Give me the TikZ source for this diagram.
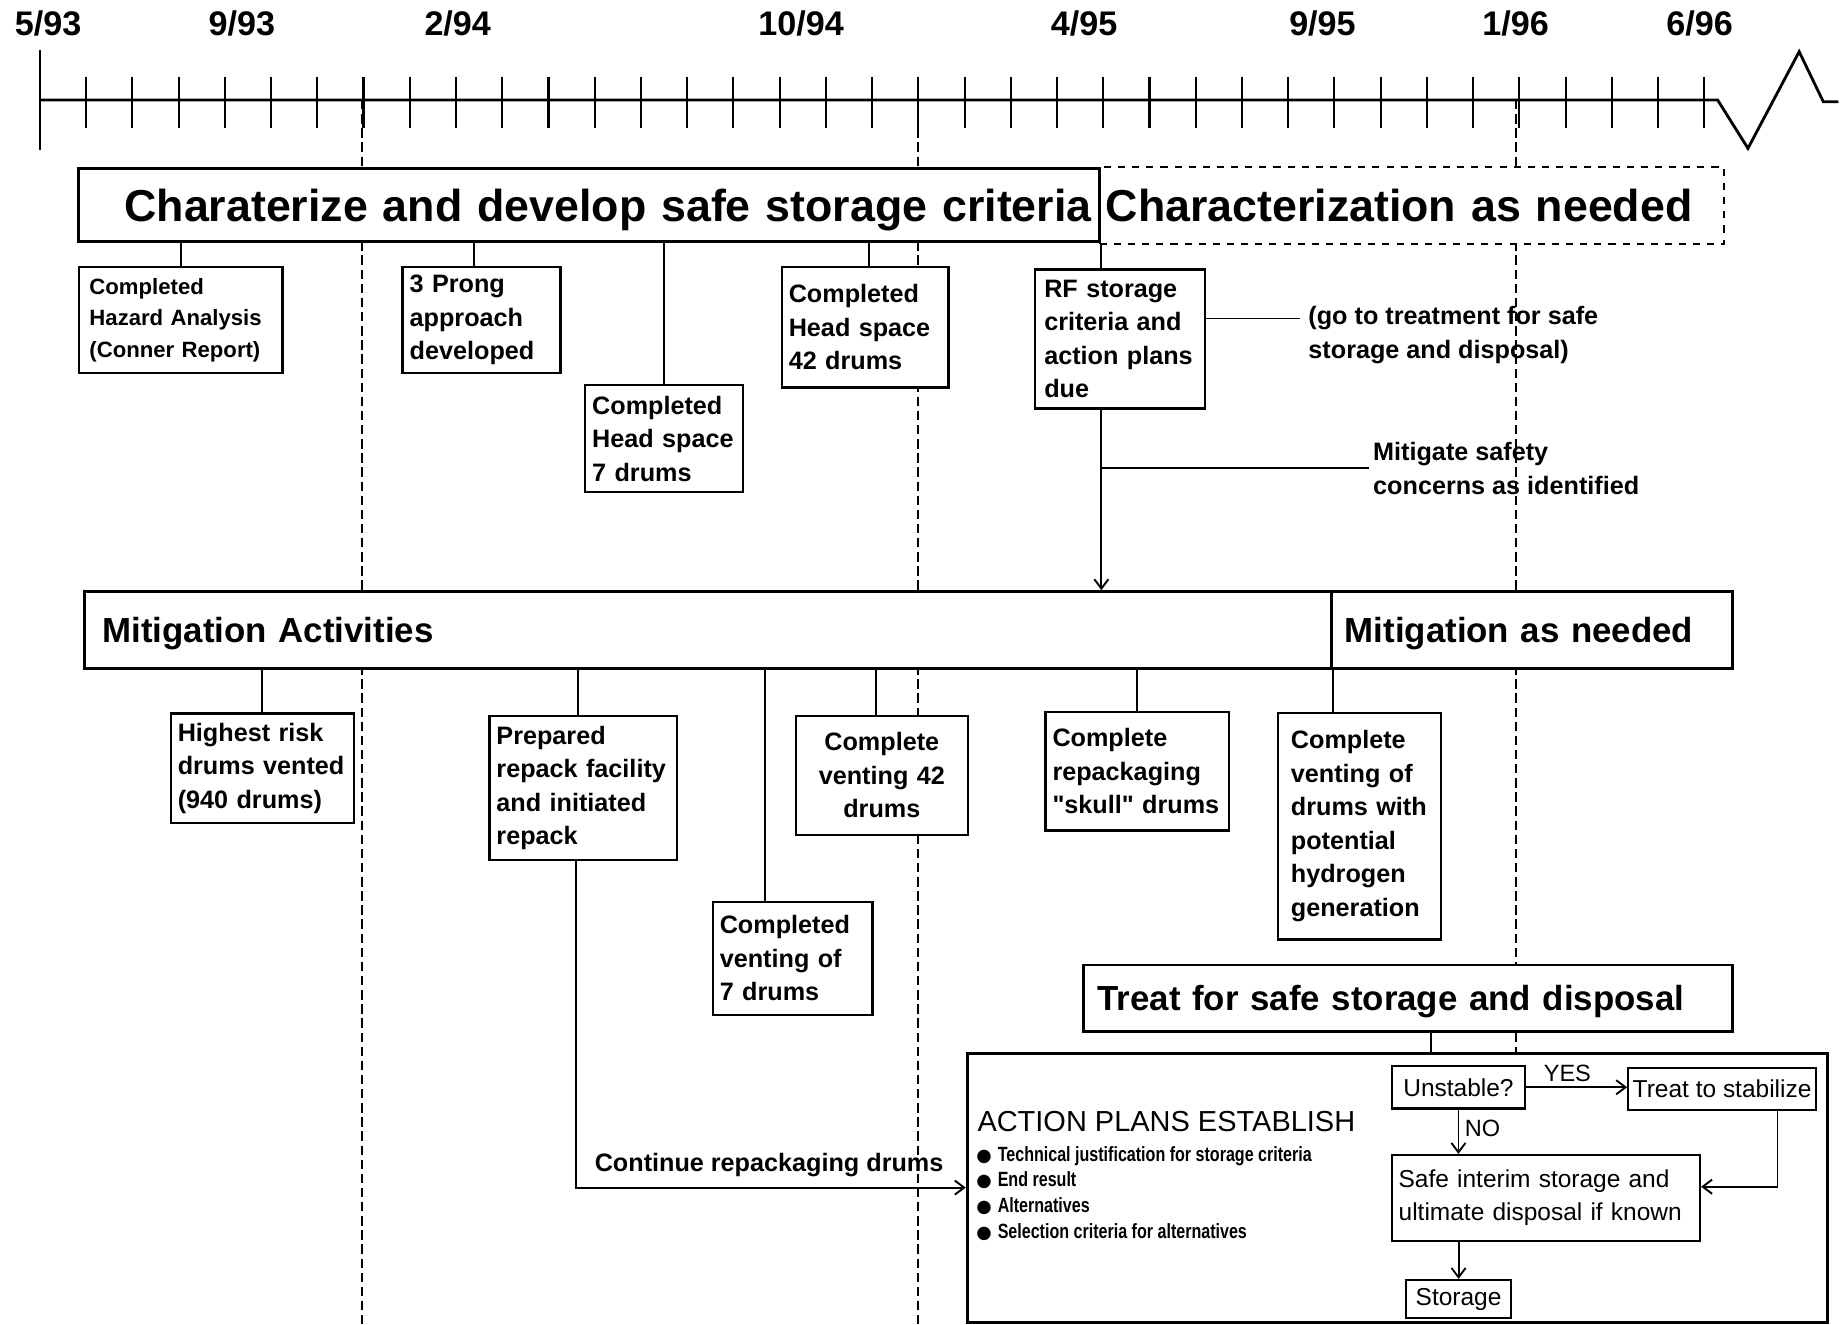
\documentclass[tikz,border=0pt]{standalone}
\usepackage{fontspec}
\setmainfont{Liberation Sans}
\newfontfamily\condfont[FakeStretch=0.78]{Liberation Sans}
\newfontfamily\symfont{DejaVu Sans}
\newfontfamily\quotefont[Ligatures=TeXOff]{Liberation Sans}
\usepackage{tikz}
\usetikzlibrary{arrows.meta}

\begin{document}
\begin{tikzpicture}[x=0.5pt, y=-0.5pt,
	bigbox/.style={draw=black, line width=1.3pt, fill=white, inner ysep=0pt, text depth=0pt},
	bigfont/.style={font=\fontsize{19pt}{23pt}\selectfont\bfseries},
	midfont/.style={font=\fontsize{14.8pt}{18pt}\selectfont\bfseries},
	evt/.style={draw=black, line width=1pt, fill=white, inner xsep=3pt, inner ysep=0pt,
		align=left, font=\fontsize{10.7pt}{14.25pt}\selectfont\bfseries},
	note/.style={inner ysep=0pt, align=left, font=\fontsize{10.7pt}{14.25pt}\selectfont\bfseries},
	flow/.style={draw=black, line width=0.9pt, fill=white, inner sep=0pt,
		font=\fontsize{10.4pt}{14pt}\selectfont},
	datelbl/.style={inner sep=0pt, font=\fontsize{14.5pt}{16pt}\selectfont\bfseries},
	guide/.style={dash pattern=on 4pt off 2pt, line width=0.7pt},
	conn/.style={line width=0.8pt},
	arr/.style={conn, -{Straight Barb[length=4pt,width=6pt]}}
	]
	\useasboundingbox (0,0) rectangle (1568,1125);
	
	% time axis, one tick a month
	\foreach \x in {307.5, 780, 1287.5}
		\draw[guide] (\x,85) -- (\x,1125);
	\draw[line width=1.2pt] (33.9,85) -- (1459,85) -- (1484.7,126) -- (1528.2,43.9) -- (1548.7,86.4) -- (1561.5,86.4);
	\draw[line width=1pt] (33.9,42.5) -- (33.9,127.4);
	\foreach \i in {1,...,36}
		\draw[line width=0.9pt] ({33.9+\i*39.27},65) -- ++(0,44);
	\foreach \x/\d [count=\k] in {40.9/{5/93}, 205.4/{9/93}, 388.8/{2/94}, 680.4/{10/94},
		920.8/{4/95}, 1123.3/{9/95}, 1287.4/{1/96}, 1443.7/{6/96}}
		\node[datelbl] (date\k) at (\x,19.8) {\d};
	
	% characterization row
	\node[bigbox, dashed, line width=1pt, minimum width=265pt, minimum height=32.75pt,
		inner xsep=2.5pt, text width=260pt, align=left, bigfont] (charneed) at (1199.2,174.75)
		{Characterization as needed};
	\node[bigbox, minimum width=433.6pt, minimum height=31.15pt, inner xsep=3.5pt,
		text width=426.6pt, align=right, bigfont] (charbox) at (500.6,174.15)
		{Charaterize and develop safe storage criteria};
	
	\node[evt, inner xsep=4.5pt, text width=77.5pt, minimum height=45pt,
		font=\fontsize{9.4pt}{13.5pt}\selectfont\bfseries] (hazard) at (153.5,272)
		{Completed\\Hazard Analysis\\(Conner Report)};
	\node[evt, text width=61pt, minimum height=45pt] (prong) at (409,272)
		{3 Prong\\approach\\developed};
	\node[evt, text width=61pt, minimum height=45.5pt] (head7) at (564,372.5)
		{Completed\\Head space\\7 drums};
	\node[evt, text width=64.75pt, minimum height=51pt] (head42) at (734.75,278)
		{Completed\\Head space\\42 drums};
	\node[evt, inner xsep=4pt, text width=64.25pt, minimum height=59pt] (rf) at (951.25,288)
		{RF storage\\criteria and\\action plans\\due};
	\node[note, anchor=west, inner xsep=3.5pt] (goto) at (1104,284.5)
		{(go to treatment for safe\\storage and disposal)};
	\node[note, anchor=west, inner xsep=1.5pt] (mitig) at (1163,397.8)
		{Mitigate safety\\concerns as identified};
	
	\draw[conn] (hazard.north |- charbox.south) -- (hazard.north);
	\draw[conn] ([xshift=-3.2pt]prong.north |- charbox.south) -- ([xshift=-3.2pt]prong.north);
	\draw[conn] (head7.north |- charbox.south) -- (head7.north);
	\draw[conn] ([xshift=1.6pt]head42.north |- charbox.south) -- ([xshift=1.6pt]head42.north);
	\draw[conn] (charbox.south east) -- (charbox.south east |- rf.north);
	\draw[conn] ([yshift=7pt]goto.west -| rf.east) -- ([yshift=7pt]goto.west);
	
	% mitigation row
	\node[bigbox, minimum width=170.25pt, minimum height=32.55pt, inner xsep=5.5pt,
		text width=159.25pt, align=left, midfont] (mitneed) at (1301.45,535.15)
		{Mitigation as needed};
	\node[bigbox, minimum width=529.9pt, minimum height=32.55pt, inner xsep=7.8pt,
		text width=514.3pt, align=left, midfont] (mitbox) at (601.3,535.15)
		{Mitigation Activities};
	
	\draw[arr] (charbox.south east |- rf.south) -- (charbox.south east |- mitbox.north);
	\draw[conn] (mitig.west -| charbox.south east) -- (mitig.west);
	
	\node[evt, text width=71.8pt, minimum height=46.5pt] (highest) at (222.8,652.5)
		{Highest risk\\drums vented\\(940 drums)};
	\node[evt, text width=73.7pt, minimum height=61.25pt] (prepared) at (495.4,669.25)
		{Prepared\\repack facility\\and initiated\\repack};
	\node[evt, text width=61.8pt, minimum height=48pt] (vent7) at (673.2,814)
		{Completed\\venting of\\7 drums};
	\node[evt, text width=67pt, minimum height=50.5pt, align=center] (vent42) at (749,658.5)
		{Complete\\venting 42\\drums};
	\node[evt, text width=71.9pt, minimum height=50.5pt] (skull) at (965.9,655)
		{Complete\\repackaging\\{\quotefont"skull"} drums};
	\node[evt, inner xsep=5.5pt, text width=58.25pt, minimum height=96.3pt] (hydro) at (1154.75,701.7)
		{Complete\\venting of\\drums with\\potential\\hydrogen\\generation};
	
	\draw[conn] (highest.north |- mitbox.south) -- (highest.north);
	\draw[conn] ([xshift=-2.3pt]prepared.north |- mitbox.south) -- ([xshift=-2.3pt]prepared.north);
	\draw[conn] ([xshift=-11.7pt]vent7.north |- mitbox.south) -- ([xshift=-11.7pt]vent7.north);
	\draw[conn] ([xshift=-2.35pt]vent42.north |- mitbox.south) -- ([xshift=-2.35pt]vent42.north);
	\draw[conn] (skull.north |- mitbox.south) -- (skull.north);
	\draw[conn] (mitbox.south east) -- (mitbox.south east |- hydro.north);
	
	% treatment and action plans
	\node[bigbox, line width=1.1pt, minimum width=275.75pt, minimum height=28.3pt, inner xsep=6pt,
		text width=263.75pt, align=left, font=\fontsize{14.8pt}{18pt}\selectfont\bfseries]
		(treatbox) at (1195.95,848) {Treat for safe storage and disposal};
	\node[draw=black, line width=1.2pt, fill=white, inner sep=0pt, minimum width=365.25pt,
		minimum height=114.25pt] (actbox) at (1186.75,1008.75) {};
	\draw[conn] ([xshift=9.75pt]treatbox.south) -- ([xshift=9.75pt]treatbox.south |- actbox.north);
	
	\node[inner sep=0pt, anchor=west, font=\fontsize{12.3pt}{14pt}\selectfont] (acthead)
		at (829.9,952.8) {ACTION PLANS ESTABLISH};
	\node[inner sep=0pt, anchor=west, align=left,
		font=\condfont\bfseries\fontsize{8.75pt}{10.85pt}\selectfont] (actlist) at (829,1013.6)
		{{\symfont\fontsize{7.5pt}{10pt}\selectfont ●}\hspace{2.5pt}Technical justification for storage criteria\\
		{\symfont\fontsize{7.5pt}{10pt}\selectfont ●}\hspace{2.5pt}End result\\
		{\symfont\fontsize{7.5pt}{10pt}\selectfont ●}\hspace{2.5pt}Alternatives\\
		{\symfont\fontsize{7.5pt}{10pt}\selectfont ●}\hspace{2.5pt}Selection criteria for alternatives};
	
	\draw[arr] ([xshift=-3pt]prepared.south) |- (actbox.west);
	\node[note, inner sep=0pt] (contlbl) at (653.25,989.6) {Continue repackaging drums};
	
	% decision flow
	\node[flow, minimum width=56.2pt, minimum height=18pt] (unstable) at (1238.8,923.5) {Unstable?};
	\node[flow, minimum width=79.75pt, minimum height=17.7pt] (stabil) at (1462.75,925.1) {Treat to stabilize};
	\node[flow, minimum width=130.75pt, minimum height=36.5pt, inner xsep=2.75pt,
		text width=125.25pt, align=left] (safe) at (1313.25,1017.5)
		{Safe interim storage and\\ultimate disposal if known};
	\node[flow, minimum width=44.4pt, minimum height=16.3pt] (storage) at (1238.9,1103.5) {Storage};
	\node[inner sep=0pt, font=\fontsize{10pt}{12pt}\selectfont] (yeslbl) at (1331.3,911.7) {YES};
	\node[inner sep=0pt, font=\fontsize{10pt}{12pt}\selectfont] (nolbl) at (1259.3,958.4) {NO};
	
	\draw[arr] (unstable.east) -- (unstable.east -| stabil.west);
	\draw[arr] (unstable.south) -- (unstable.south |- safe.north);
	\draw[arr] ([xshift=23.5pt]stabil.south) |- ([yshift=4.75pt]safe.east);
	\draw[arr] (storage.north |- safe.south) -- (storage.north);
\end{tikzpicture}
\end{document}
